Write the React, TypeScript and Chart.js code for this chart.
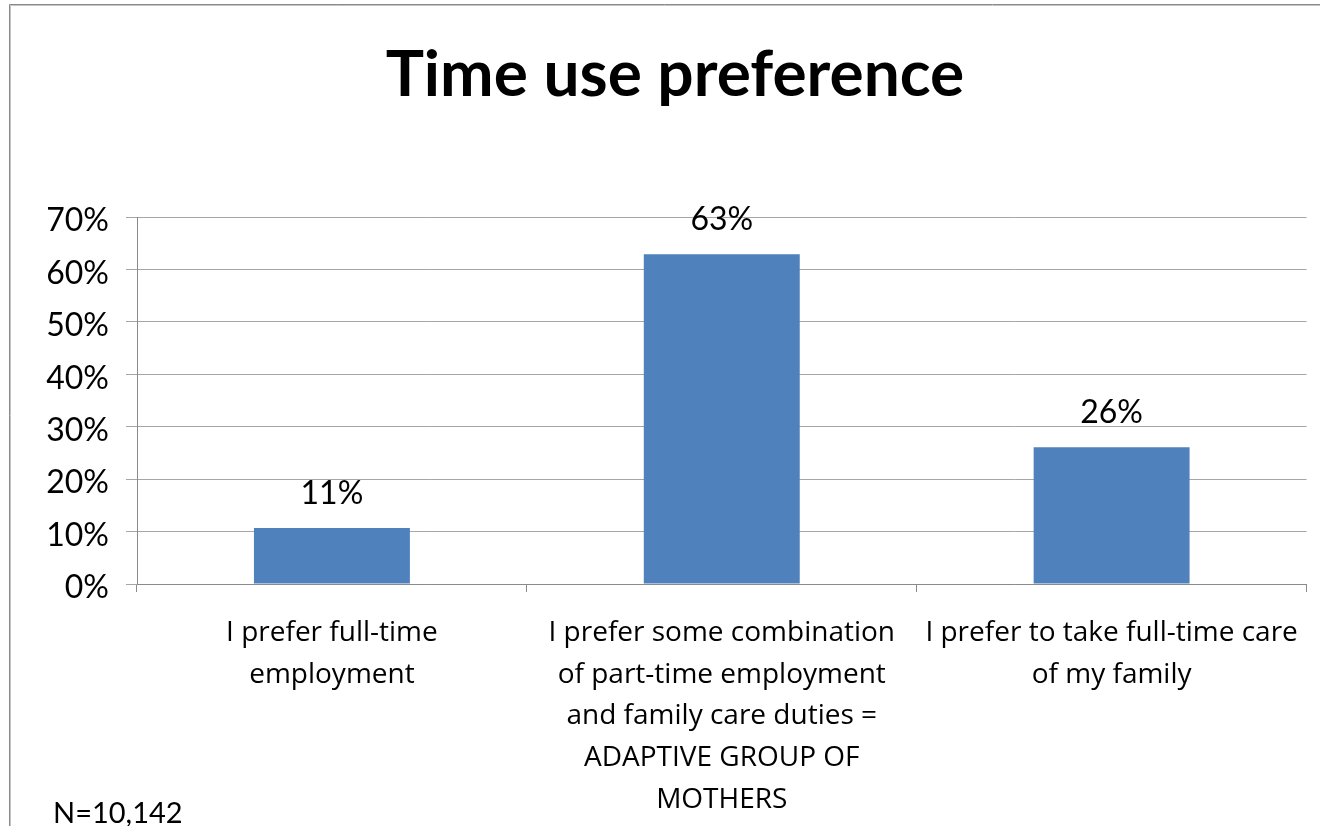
import React, { useEffect, useRef } from "react";
import { Chart, registerables } from "chart.js";

Chart.register(...registerables);

const TITLE = "Time use preference";
const NOTE = "N=10,142";

const categories: string[][] = [
  ["I prefer full-time", "employment"],
  [
    "I prefer some combination",
    "of part-time employment",
    "and family care duties =",
    "ADAPTIVE GROUP OF",
    "MOTHERS",
  ],
  ["I prefer to take full-time care", "of my family"],
];

const values: number[] = [10.7, 62.9, 26.1];
const valueLabels: string[] = ["11%", "63%", "26%"];
const yTickLabels: string[] = ["0%", "10%", "20%", "30%", "40%", "50%", "60%", "70%"];

const FONT = "Lato";
const XFONT = "Open Sans";

const framePlugin = {
  id: "frame",
  beforeDraw(chart: any) {
    const ctx = chart.ctx;
    ctx.save();
    ctx.fillStyle = "#ffffff";
    ctx.fillRect(0, 0, chart.width, chart.height);
    ctx.lineWidth = 1;
    ctx.strokeStyle = "#8a8a8a";
    ctx.beginPath();
    ctx.moveTo(9.5, chart.height);
    ctx.lineTo(9.5, 4.5);
    ctx.lineTo(chart.width, 4.5);
    ctx.stroke();
    ctx.strokeStyle = "#c4c4c4";
    ctx.beginPath();
    ctx.moveTo(10.5, chart.height);
    ctx.lineTo(10.5, 5.5);
    ctx.lineTo(chart.width, 5.5);
    ctx.stroke();
    ctx.restore();
  },
  afterDraw(chart: any) {
    const ctx = chart.ctx;
    ctx.save();
    ctx.fillStyle = "#000000";
    ctx.textBaseline = "alphabetic";
    ctx.textAlign = "center";
    ctx.font = `bold 64px ${FONT}`;
    ctx.fillText(TITLE, 675, 96);
    ctx.textAlign = "left";
    ctx.font = `29px ${FONT}`;
    ctx.fillText(NOTE, 53, 823);
    ctx.restore();
  },
};

const valueLabelPlugin = {
  id: "valueLabels",
  afterDatasetsDraw(chart: any) {
    const ctx = chart.ctx;
    const meta = chart.getDatasetMeta(0);
    ctx.save();
    ctx.font = `32px ${FONT}`;
    ctx.fillStyle = "#000000";
    ctx.textAlign = "center";
    ctx.textBaseline = "alphabetic";
    meta.data.forEach((bar: any, i: number) => {
      ctx.fillText(valueLabels[i], bar.x, bar.y - 24);
    });
    ctx.restore();
  },
};

export default function App() {
  const ref = useRef<HTMLCanvasElement>(null);

  useEffect(() => {
    const canvas = ref.current;
    if (!canvas) return;
    const chart = new Chart(canvas, {
      type: "bar",
      data: {
        labels: categories,
        datasets: [
          {
            data: values,
            backgroundColor: "#4F81BD",
            borderWidth: 0,
            barPercentage: 0.4,
            categoryPercentage: 1,
          },
        ],
      },
      options: {
        responsive: false,
        animation: false,
        devicePixelRatio: 1,
        layout: { padding: { top: 217, left: 10, right: 13, bottom: 0 } },
        plugins: {
          legend: { display: false },
          tooltip: { enabled: false },
          title: { display: false },
        },
        scales: {
          x: {
            grid: {
              offset: true,
              drawOnChartArea: false,
              drawTicks: true,
              tickLength: 8,
              color: "#8a8a8a",
            },
            border: { color: "#8a8a8a" },
            ticks: {
              autoSkip: false,
              maxRotation: 0,
              minRotation: 0,
              padding: 20,
              color: "#000000",
              font: { family: XFONT, size: 28, lineHeight: "41.7px" },
            },
            afterFit: (s: any) => {
              s.height = 826 - 584;
            },
          },
          y: {
            min: 0,
            max: 70,
            ticks: {
              stepSize: 10,
              callback: (_v: any, i: number) => yTickLabels[i],
              padding: 17,
              color: "#000000",
              labelOffset: 4,
              font: { family: FONT, size: 32 },
            },
            grid: { color: "#a6a6a6", tickLength: 11 },
            border: { color: "#8a8a8a" },
            afterFit: (s: any) => {
              s.width = 127;
            },
          },
        },
      },
      plugins: [framePlugin, valueLabelPlugin],
    });
    return () => chart.destroy();
  }, []);

  return (
    <div style={{ position: "fixed", left: 0, top: 0, width: 1320, height: 826, background: "#fff" }}>
      <canvas ref={ref} width={1320} height={826} style={{ display: "block" }} />
    </div>
  );
}
